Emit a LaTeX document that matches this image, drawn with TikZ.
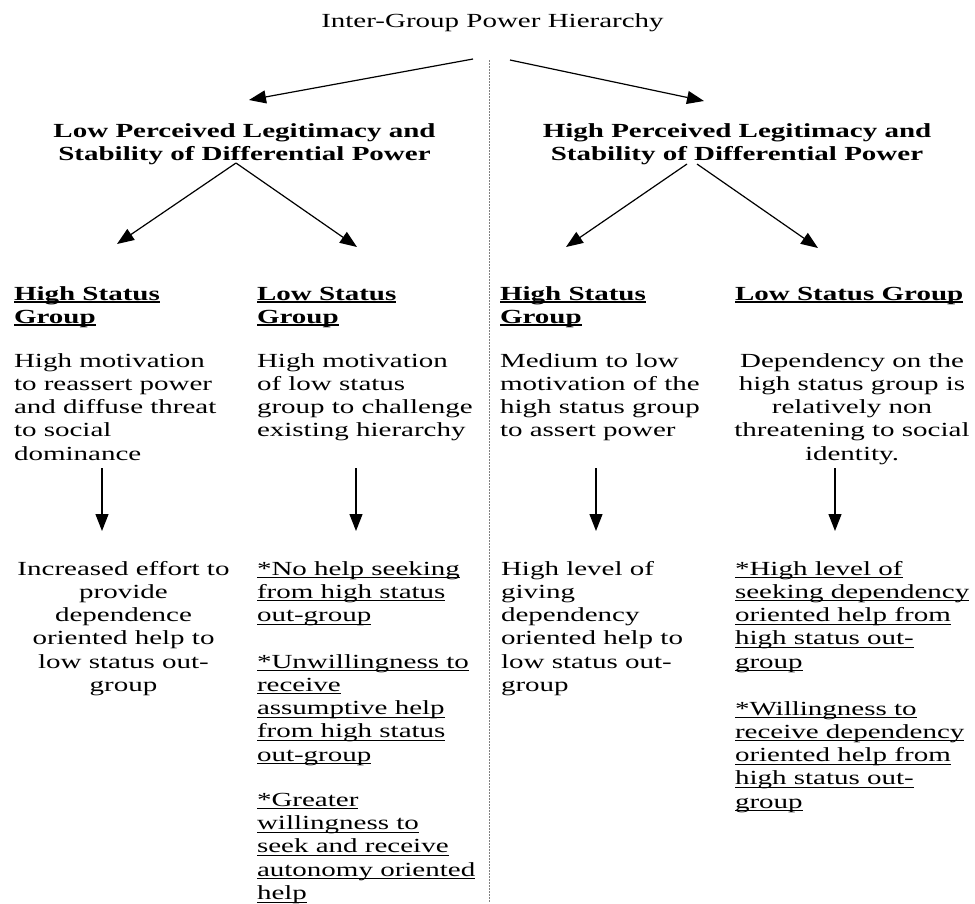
\documentclass[tikz,border=0pt]{standalone}
\usepackage{fontspec}
\setmainfont{Liberation Serif}[FakeStretch=1.45]
\usetikzlibrary{arrows.meta}
\newsavebox{\ulbox}
\newcommand{\ulgen}[2]{\sbox{\ulbox}{#2}\rlap{\rule[-3pt]{\wd\ulbox}{#1}}\usebox{\ulbox}}
\newcommand{\uln}[1]{\ulgen{1pt}{#1}}
\newcommand{\hdul}[1]{\ulgen{2pt}{#1}}
\begin{document}
\begin{tikzpicture}[x=1pt,y=-1pt,
  txt/.style={inner sep=0pt, outer sep=0pt, font=\fontsize{20}{23.3}\selectfont},
  hd/.style={inner sep=0pt, outer sep=0pt, font=\fontsize{20}{23.3}\selectfont\bfseries},
  arr/.style={-{Triangle[length=17pt,width=13pt]}, line width=1.2pt},
  divider/.style={draw=gray, line width=1pt, dash pattern=on 1.5pt off 1.5pt}
]
\useasboundingbox (0,0) rectangle (975,903);

% title and top level (base anchor = baseline of last line)
\node[txt, anchor=base] (title) at (492.5,27) {Inter-Group Power Hierarchy};
\node[hd, anchor=base, align=center] (lowleg) at (244.5,160.3) {Low Perceived Legitimacy and\\Stability of Differential Power};
\node[hd, anchor=base, align=center] (highleg) at (737,160.3) {High Perceived Legitimacy and\\Stability of Differential Power};

% divider
\coordinate (divtop) at (489,60);
\coordinate (divbot) at (489,903);
\draw[divider] (divtop) -- (divbot);

% arrows from title
\coordinate (t1) at (473,59);
\coordinate (t1e) at (249,100);
\coordinate (t2) at (510,60);
\coordinate (t2e) at (704,101);
\draw[arr] (t1) -- (t1e);
\draw[arr] (t2) -- (t2e);

% arrows from legitimacy headings
\coordinate (l0) at (236,163);
\coordinate (l1) at (117,244);
\coordinate (l2) at (357,247);
\coordinate (r0a) at (687,164);
\coordinate (r0b) at (697,164);
\coordinate (r1) at (566,247);
\coordinate (r2) at (818,248);
\draw[arr] (l0) -- (l1);
\draw[arr] (l0) -- (l2);
\draw[arr] (r0a) -- (r1);
\draw[arr] (r0b) -- (r2);

% column headings
\node[hd, anchor=base west, align=left] (h1) at (14,323.3) {\hdul{High Status}\\\hdul{Group}};
\node[hd, anchor=base west, align=left] (h2) at (257,323.3) {\hdul{Low Status}\\\hdul{Group}};
\node[hd, anchor=base west, align=left] (h3) at (500,323.3) {\hdul{High Status}\\\hdul{Group}};
\node[hd, anchor=base west, align=left] (h4) at (735,300) {\hdul{Low Status Group}};

% motivations
\node[txt, anchor=base west, align=left] (m1) at (14,460.2) {High motivation\\to reassert power\\and diffuse threat\\to social\\dominance};
\node[txt, anchor=base west, align=left] (m2) at (257,436.9) {High motivation\\of low status\\group to challenge\\existing hierarchy};
\node[txt, anchor=base west, align=left] (m3) at (500,436.9) {Medium to low\\motivation of the\\high status group\\to assert power};
\node[txt, anchor=base, align=center] (m4) at (852,460.2) {Dependency on the\\high status group is\\relatively non\\threatening to social\\identity.};

% down arrows
\coordinate (d1s) at (102,468); \coordinate (d1e) at (102,531);
\coordinate (d2s) at (356,468); \coordinate (d2e) at (356,531);
\coordinate (d3s) at (596,468); \coordinate (d3e) at (596,531);
\coordinate (d4s) at (835,468); \coordinate (d4e) at (835,531);
\draw[arr] (d1s) -- (d1e);
\draw[arr] (d2s) -- (d2e);
\draw[arr] (d3s) -- (d3e);
\draw[arr] (d4s) -- (d4e);

% outcomes
\node[txt, anchor=base, align=center] (o1) at (123.5,691.5) {Increased effort to\\provide\\dependence\\oriented help to\\low status out-\\group};
\node[txt, anchor=base west, align=left] (o2a) at (257,621.6) {\uln{*No help seeking}\\\uln{from high status}\\\uln{out-group}};
\node[txt, anchor=base west, align=left] (o2b) at (257,761.2) {\uln{*Unwillingness to}\\\uln{receive}\\\uln{assumptive help}\\\uln{from high status}\\\uln{out-group}};
\node[txt, anchor=base west, align=left] (o2c) at (257,899.5) {\uln{*Greater}\\\uln{willingness to}\\\uln{seek and receive}\\\uln{autonomy oriented}\\\uln{help}};
\node[txt, anchor=base west, align=left] (o3) at (501,691.5) {High level of\\giving\\dependency\\oriented help to\\low status out-\\group};
\node[txt, anchor=base west, align=left] (o4a) at (735,668.2) {\uln{*High level of}\\\uln{seeking dependency}\\\uln{oriented help from}\\\uln{high status out-}\\\uln{group}};
\node[txt, anchor=base west, align=left] (o4b) at (735,808.2) {\uln{*Willingness to}\\\uln{receive dependency}\\\uln{oriented help from}\\\uln{high status out-}\\\uln{group}};
\end{tikzpicture}
\end{document}
